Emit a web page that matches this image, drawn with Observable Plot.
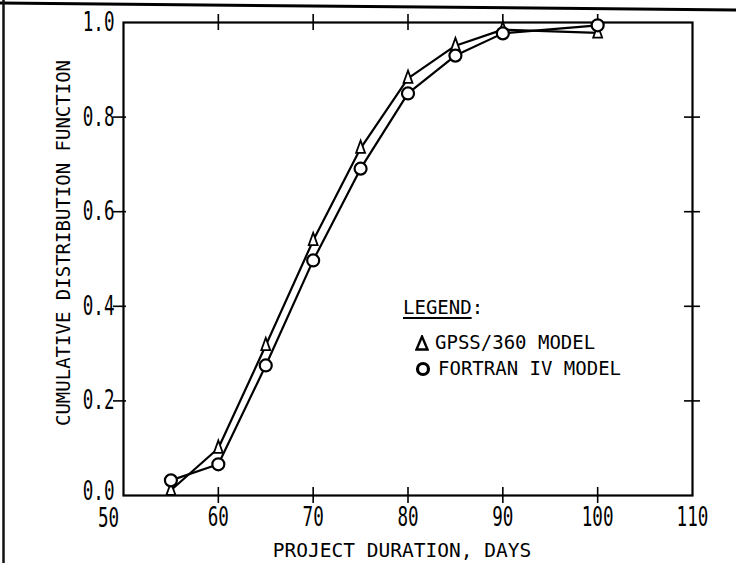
<!DOCTYPE html>
<html>
<head>
<meta charset="utf-8">
<script src="https://cdn.jsdelivr.net/npm/d3@7"></script>
<script src="https://cdn.jsdelivr.net/npm/@observablehq/plot@0.6"></script>
<style>
  html, body { margin: 0; padding: 0; background: #fff; }
  #wrap { position: relative; width: 736px; height: 563px; overflow: hidden; background: #fff; }
  #deco { position: absolute; left: 0; top: 0; pointer-events: none; }
  #legend { position: absolute; left: 403px; top: 294px; font-family: "DejaVu Sans Mono", monospace; font-size: 19px; color: #000; }
  #legend .t { line-height: 26px; }
  #legend .t u { text-decoration-thickness: 1.5px; text-underline-offset: 3px; }
  #legend .row { white-space: pre; line-height: 26px; margin-left: 12px; }
  #legend .row1 { margin-top: 9px; }
  #legend svg { vertical-align: -2px; margin-right: 6px; }
</style>
</head>
<body>
<div id="wrap">
  <div id="chart"></div>
  <svg id="deco" width="736" height="563">
    <line x1="0" y1="3" x2="736" y2="10" stroke="#000" stroke-width="3"/>
    <line x1="3.5" y1="0" x2="3.5" y2="563" stroke="#111" stroke-width="2.5"/>
  </svg>
  <div id="legend"></div>
</div>
<script>
// Data
const duration = [55, 60, 65, 70, 75, 80, 85, 90, 100];
const gpss     = [0.011, 0.10, 0.317, 0.539, 0.734, 0.882, 0.951, 0.985, 0.978];
const fortran  = [0.032, 0.066, 0.275, 0.497, 0.691, 0.85, 0.93, 0.977, 0.994];
const seriesNames = ["GPSS/360 MODEL", "FORTRAN IV MODEL"];
const xTitle = ["PROJECT DURATION, DAYS"];
const yTitle = ["CUMULATIVE DISTRIBUTION FUNCTION"];
const xTicks = [50, 60, 70, 80, 90, 100, 110];
const xInnerTicks = [60, 70, 80, 90, 100];
const yTicks = [0, 0.2, 0.4, 0.6, 0.8, 1.0];
const yInnerTicks = [0.2, 0.4, 0.6, 0.8];

const W = 736, H = 563;
const mL = 123, mR = 44, mT = 22, mB = 68;
const innerW = W - mL - mR, innerH = H - mT - mB;
const tk = 8;

const gData = duration.map((d, i) => ({x: d, y: gpss[i]}));
const fData = duration.map((d, i) => ({x: d, y: fortran[i]}));

const fontMono = "DejaVu Sans Mono, monospace";

// tall, narrow triangle like the reference's plotted marker
const tallTriangle = {
  draw(context, size) {
    const s = Math.sqrt(size) * 0.5;
    context.moveTo(0, -s * 1.25);
    context.lineTo(s * 0.72, s * 0.75);
    context.lineTo(-s * 0.72, s * 0.75);
    context.closePath();
  }
};

const plot = Plot.plot({
  width: W, height: H,
  marginLeft: mL, marginRight: mR, marginTop: mT, marginBottom: mB,
  style: {fontFamily: fontMono, background: "#fff", color: "#000", overflow: "visible"},
  x: {domain: [50, 110]},
  y: {domain: [0, 1]},
  marks: [
    Plot.frame({stroke: "#000", strokeWidth: 2.2}),
    Plot.tickX(xInnerTicks, {x: d => d, stroke: "#000", strokeWidth: 1.6, insetTop: innerH - tk, insetBottom: -tk}),
    Plot.tickX(xInnerTicks, {x: d => d, stroke: "#000", strokeWidth: 1.6, insetTop: -tk, insetBottom: innerH - tk}),
    Plot.tickY(yInnerTicks, {y: d => d, stroke: "#000", strokeWidth: 1.6, insetLeft: -tk - 2, insetRight: innerW - 3}),
    Plot.tickY(yInnerTicks, {y: d => d, stroke: "#000", strokeWidth: 1.6, insetLeft: innerW - tk, insetRight: -tk}),
    Plot.axisY({ticks: yTicks.slice(1), tickSize: 0, tickPadding: 9, tickFormat: d => d.toFixed(1), fontSize: 22, label: null}),
    Plot.axisY({ticks: [yTicks[0]], tickSize: 0, tickPadding: 9, tickFormat: d => d.toFixed(1), fontSize: 22, dy: -4, label: null}),
    Plot.axisX({ticks: xTicks.slice(1), tickSize: 0, tickPadding: 12, fontSize: 22, label: null}),
    Plot.axisX({ticks: [xTicks[0]], tickSize: 0, tickPadding: 13, fontSize: 22, dx: -15, label: null}),
    Plot.text(yTitle, {frameAnchor: "left", rotate: -90, dx: -60, dy: -16, fontSize: 19, textAnchor: "middle", lineAnchor: "middle"}),
    Plot.text(xTitle, {frameAnchor: "bottom", dx: -6, dy: 55, fontSize: 19.5, textAnchor: "middle", lineAnchor: "middle"}),
    Plot.line(gData, {x: "x", y: "y", stroke: "#000", strokeWidth: 2.2}),
    Plot.line(fData, {x: "x", y: "y", stroke: "#000", strokeWidth: 2.2}),
    Plot.dot(gData, {x: "x", y: "y", symbol: tallTriangle, r: 7, stroke: "#000", strokeWidth: 1.8, fill: "#fff"}),
    Plot.dot(fData, {x: "x", y: "y", symbol: "circle", r: 6, stroke: "#000", strokeWidth: 2.2, fill: "#fff"})
  ]
});
// condensed, tall typewriter-like tick numerals
plot.querySelectorAll("g[aria-label='y-axis tick label'] text, g[aria-label='x-axis tick label'] text").forEach(t => {
  const tr = t.getAttribute("transform");
  if (tr) t.setAttribute("transform", tr + " scale(0.8,1.2)");
});
document.getElementById("chart").appendChild(plot);

const leg = document.getElementById("legend");
leg.innerHTML =
  `<div class="t"><u>LEGEND</u>:</div>` +
  `<div class="row row1"><svg width="14" height="16"><path d="M7 1.5 L12.5 14.5 L1.5 14.5 Z" fill="none" stroke="#000" stroke-width="2.4"/></svg>${seriesNames[0]}</div>` +
  `<div class="row"><svg width="17" height="16"><circle cx="8" cy="8" r="5.5" fill="none" stroke="#000" stroke-width="3.2"/></svg>${seriesNames[1]}</div>`;
</script>
</body>
</html>
